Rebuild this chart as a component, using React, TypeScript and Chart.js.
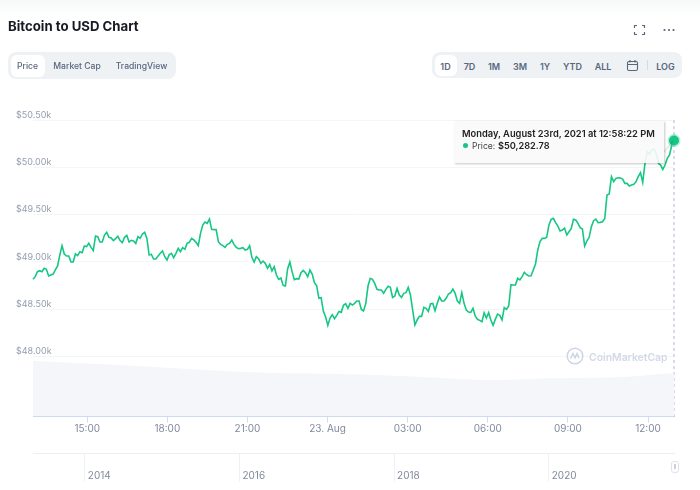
import React, { useEffect, useRef } from 'react';
import { Chart, registerables } from 'chart.js';

Chart.register(...registerables);

// hours counted from 22 Aug 00:00
const START_HOUR = 12.97;
const END_HOUR = 36.973;

const prices = [
  48816, 48844, 48897, 48907, 48897, 48932, 48922, 48851, 48862, 48872, 48915, 48957, 49073, 49172, 49084, 49062, 49062,
  48999, 48999, 49084, 49066, 49108, 49098, 49168, 49161, 49196, 49154, 49119, 49274, 49267, 49210, 49210, 49284,
  49313, 49260, 49253, 49225, 49246, 49270, 49225, 49203, 49260, 49281, 49210, 49228, 49221, 49196, 49267, 49249,
  49295, 49313, 49249, 49073, 49080, 49031, 49031, 49062, 49091, 49115, 49055, 49020, 49077, 49091, 49045, 49091,
  49143, 49108, 49150, 49133, 49196, 49207, 49249, 49232, 49207, 49172, 49302, 49390, 49422, 49408, 49453, 49344,
  49341, 49341, 49214, 49186, 49172, 49154, 49186, 49196,
  49231, 49185, 49154, 49140, 49143, 49150, 49126, 49133, 49171, 49048, 48999, 49055, 49034, 48985, 49009, 48985,
  48932, 48974, 48904, 48949, 48861, 48816, 48830, 48752, 48745, 48925, 48999, 48897, 48812, 48823, 48819, 48886,
  48911, 48886, 48844, 48914, 48872, 48780, 48749, 48615, 48622, 48481, 48421, 48329, 48407, 48442, 48400, 48435,
  48477, 48467, 48541, 48558, 48509, 48562, 48544, 48562, 48587, 48587, 48498, 48481, 48562, 48745, 48826, 48816,
  48773, 48710, 48703, 48703, 48668, 48710, 48742, 48731, 48625, 48639, 48720, 48650, 48625, 48668, 48675, 48731,
  48650, 48491, 48333, 48386, 48424, 48424, 48520, 48509, 48477, 48558, 48562, 48484, 48562, 48629, 48587, 48587,
  48615, 48661, 48675, 48713, 48668, 48587, 48562,
  48675, 48562, 48492, 48470, 48467, 48509, 48428, 48393, 48382, 48368, 48463, 48407, 48463, 48386, 48330, 48393,
  48449, 48435, 48386, 48516, 48499, 48534, 48759, 48756, 48756, 48826, 48809, 48844, 48890, 48865, 48851, 48854,
  48914, 48978, 49126, 49214, 49249, 49249, 49260, 49390, 49450, 49460, 49415, 49379, 49327, 49337, 49358, 49284,
  49319, 49355, 49450, 49443, 49408, 49362, 49348, 49168, 49221, 49260, 49372, 49436, 49453, 49415, 49418, 49425,
  49460, 49707, 49718, 49901, 49848, 49883, 49890, 49887, 49876, 49830, 49830, 49802, 49813, 49820, 49848, 49901,
  49943, 49841, 50042, 50165, 50140, 50183, 50190, 50147, 50042, 50024, 49978, 50024, 50095, 50130, 50235,
  50282.78,
];

// volume in $bn, sampled at these hours
const volumeHours = [12.97, 15.48, 17.99, 21.1, 24.84, 27.35, 30.08, 32.33, 34.84, 36.973];
const volumes = [30, 28.3, 26.3, 23.9, 22.8, 21.5, 19.7, 20.6, 21.2, 23.5];

const hourTicks = [15, 18, 21, 24, 27, 30, 33, 36];
const hourLabels = ['15:00', '18:00', '21:00', '23. Aug', '03:00', '06:00', '09:00', '12:00'];
const priceTicks = [48000, 48500, 49000, 49500, 50000, 50500];
const priceLabels = ['$48.00k', '$48.50k', '$49.00k', '$49.50k', '$50.00k', '$50.50k'];
const navYears = [2014, 2016, 2018, 2020];

const typeTabs = ['Price', 'Market Cap', 'TradingView'];
const rangeTabs = ['1D', '7D', '1M', '3M', '1Y', 'YTD', 'ALL'];

const GREEN = '#16c784';
const SANS = 'Inter, sans-serif';

const crosshair = {
  id: 'crosshair',
  beforeDatasetsDraw(chart: any) {
    const { ctx, chartArea, scales } = chart;
    const x = scales.x.getPixelForValue(END_HOUR);
    ctx.save();
    ctx.strokeStyle = '#aebad6';
    ctx.setLineDash([3, 3]);
    ctx.lineWidth = 1;
    ctx.beginPath();
    ctx.moveTo(x, chartArea.top);
    ctx.lineTo(x, chartArea.bottom);
    ctx.stroke();
    ctx.restore();
  },
};

const abs = (left: number, top: number, width: number, height: number): React.CSSProperties => ({
  position: 'absolute',
  left,
  top,
  width,
  height,
});

const tabText: React.CSSProperties = {
  position: 'absolute',
  transform: 'translateX(-50%)',
  top: 59.5,
  fontSize: 8.6,
  lineHeight: '13px',
  fontWeight: 500,
  color: '#58667e',
  whiteSpace: 'nowrap',
};

const App = () => {
  const canvasRef = useRef<HTMLCanvasElement>(null);

  useEffect(() => {
    if (!canvasRef.current) return;
    const times = prices.map((_, i) => START_HOUR + (i * (END_HOUR - START_HOUR)) / (prices.length - 1));
    const chart = new Chart(canvasRef.current, {
      type: 'line',
      data: {
        datasets: [
          {
            label: 'Price',
            data: prices.map((p, i) => ({ x: times[i], y: p })),
            borderColor: GREEN,
            borderWidth: 1.6,
            tension: 0,
            clip: false,
            yAxisID: 'y',
            pointRadius: (c: any) => (c.dataIndex === prices.length - 1 ? 5 : 0),
            pointBackgroundColor: GREEN,
            pointBorderColor: 'rgba(22, 199, 132, 0.3)',
            pointBorderWidth: 3,
          },
          {
            label: 'Volume',
            data: volumes.map((v, i) => ({ x: volumeHours[i], y: v })),
            borderWidth: 0,
            backgroundColor: '#f4f6fa',
            fill: 'origin',
            pointRadius: 0,
            tension: 0.3,
            yAxisID: 'yVol',
          },
        ],
      } as any,
      options: {
        animation: false,
        responsive: false,
        devicePixelRatio: 1,
        layout: { padding: { left: 16, right: 26, top: 120, bottom: 0 } },
        plugins: { legend: { display: false }, tooltip: { enabled: false } },
        events: [],
        scales: {
          x: {
            type: 'linear',
            position: 'bottom',
            weight: 0,
            min: START_HOUR,
            max: END_HOUR,
            afterBuildTicks: (s: any) => {
              s.ticks = hourTicks.map((value) => ({ value }));
            },
            afterFit: (s: any) => {
              s.height = 37;
            },
            grid: { drawOnChartArea: false, tickLength: 6, color: '#d3def2' },
            border: { color: '#c8d6ee' },
            ticks: {
              autoSkip: false,
              maxRotation: 0,
              padding: 0,
              color: '#808a9d',
              font: { family: SANS, size: 10 },
              callback: (v: any) => hourLabels[hourTicks.indexOf(v)],
            },
          },
          xNav: {
            type: 'linear',
            axis: 'x',
            position: 'bottom',
            weight: 1,
            min: 2013.33,
            max: 2021.62,
            afterBuildTicks: (s: any) => {
              s.ticks = navYears.map((value) => ({ value }));
            },
            afterFit: (s: any) => {
              s.height = 36.5;
            },
            grid: { drawOnChartArea: false, tickLength: 28, color: '#f0f1f4' },
            border: { color: '#eceef2' },
            ticks: {
              autoSkip: false,
              maxRotation: 0,
              align: 'start',
              labelOffset: 3,
              padding: -12,
              color: '#808a9d',
              font: { family: SANS, size: 10 },
              callback: (v: any) => String(v),
            },
          },
          y: {
            type: 'linear',
            position: 'left',
            min: 47366,
            max: 50500,
            afterBuildTicks: (s: any) => {
              s.ticks = priceTicks.map((value) => ({ value }));
            },
            afterFit: (s: any) => {
              s.width = 17;
            },
            grid: { color: '#f4f5f7', drawTicks: false },
            border: { display: false },
            ticks: {
              autoSkip: false,
              mirror: true,
              padding: -17,
              labelOffset: -5,
              color: '#959dae',
              font: { family: SANS, size: 9 },
              callback: (v: any) => priceLabels[priceTicks.indexOf(v)],
            },
          },
          yVol: {
            type: 'linear',
            display: false,
            min: 0,
            max: 160,
          },
        },
      } as any,
      plugins: [crosshair],
    });
    return () => {
      chart.destroy();
    };
  }, []);

  return (
    <div style={{ ...abs(0, 0, 700, 490), overflow: 'hidden', background: '#fff', fontFamily: SANS }}>
      <div style={{ ...abs(0, 0, 700, 17), background: 'linear-gradient(#f7f8f9, #ffffff)' }} />
      <canvas ref={canvasRef} width={700} height={490} style={{ ...abs(0, 0, 700, 490), display: 'block' }} />

      <div style={{ position: 'absolute', left: 8, top: 17, fontSize: 13.2, lineHeight: '18px', fontWeight: 700, color: '#171924', whiteSpace: 'nowrap' }}>
        Bitcoin to USD Chart
      </div>

      <svg style={abs(632, 23, 15, 14)} viewBox="0 0 15 14" fill="none" stroke="#58667e" strokeWidth="1.2">
        <path d="M2.5 5V2.500h2.500M10 2.500h2.500V5M12.500 9v2.500H10M5 11.500H2.500V9" />
      </svg>
      <svg style={abs(662, 28, 14, 4)} viewBox="0 0 14 4" fill="#58667e">
        <circle cx="2.500" cy="2" r="1.100" />
        <circle cx="7" cy="2" r="1.100" />
        <circle cx="11.500" cy="2" r="1.100" />
      </svg>

      {/* left tab group */}
      <div style={{ ...abs(8, 52, 168, 27), background: '#eff2f5', borderRadius: 8 }} />
      <div style={{ ...abs(11, 55, 34, 22), background: '#fff', borderRadius: 6 }} />
      {typeTabs.map((t, i) => (
        <div key={t} style={{ ...tabText, left: [27.5, 77, 141.5][i] }}>
          {t}
        </div>
      ))}

      {/* right tab group */}
      <div style={{ ...abs(432, 52, 250, 26), background: '#eff2f5', borderRadius: 8 }} />
      <div style={{ ...abs(434.500, 54.500, 22.500, 21.500), background: '#fff', borderRadius: 6 }} />
      {rangeTabs.map((t, i) => (
        <div key={t} style={{ ...tabText, fontSize: 9, fontWeight: 600, left: [445.500, 469.500, 494, 520, 545, 572.500, 603][i] }}>
          {t}
        </div>
      ))}
      <svg style={abs(626, 59, 13, 13)} viewBox="0 0 13 13" fill="none" stroke="#58667e" strokeWidth="1.1">
        <rect x="1.500" y="2.500" width="10" height="9" rx="1.500" />
        <path d="M1.500 5.500h10M4 1v2.500M9 1v2.500" />
      </svg>
      <div style={{ ...abs(647, 60, 1, 10), background: '#d5dbe4' }} />
      <div style={{ ...tabText, fontSize: 9, fontWeight: 600, left: 665.500 }}>LOG</div>

      {/* tooltip */}
      <div
        style={{
          ...abs(454, 120.500, 210, 42),
          background: 'rgba(250, 250, 250, 0.9)',
          boxShadow: '1px 1px 2px rgba(0, 0, 0, 0.22)',
        }}
      />
      <svg style={abs(660, 136, 14, 18)} viewBox="0 0 14 18" fill="none" stroke="rgba(0, 0, 0, 0.1)" strokeWidth="1.5">
        <path d="M4 16L13 5" />
      </svg>
      <div style={{ position: 'absolute', left: 462, top: 128, fontSize: 9.3, lineHeight: '12px', fontWeight: 600, color: '#222', whiteSpace: 'nowrap' }}>
        Monday, August 23rd, 2021 at 12:58:22 PM
      </div>
      <div style={{ ...abs(463, 143, 5, 5), borderRadius: '50%', background: GREEN }} />
      <div style={{ position: 'absolute', left: 472, top: 139.500, fontSize: 8.6, lineHeight: '12px', color: '#444', whiteSpace: 'nowrap' }}>
        Price:
      </div>
      <div style={{ position: 'absolute', left: 498, top: 139.500, fontSize: 9.2, lineHeight: '12px', fontWeight: 600, color: '#222', whiteSpace: 'nowrap' }}>
        $50,282.78
      </div>

      {/* watermark */}
      <svg style={abs(566, 347, 18, 18)} viewBox="0 0 18 18" fill="none" stroke="#cdd4e6" strokeWidth="1.500">
        <circle cx="9" cy="9" r="7.800" />
        <path d="M4.500 11.500l2.500-5 2 4.500 2-4.500 2 4.500" />
      </svg>
      <div style={{ position: 'absolute', left: 589, top: 349.500, fontSize: 10.4, lineHeight: '15px', fontWeight: 600, color: '#d3d9e8', whiteSpace: 'nowrap' }}>
        CoinMarketCap
      </div>

      {/* navigator handle */}
      <div style={{ ...abs(671, 461, 8, 12), background: '#fff', border: '1px solid #dfe2e8', borderRadius: 3, boxSizing: 'border-box' }} />
      <div style={{ ...abs(674, 464, 2, 5), background: '#ccd1da' }} />
    </div>
  );
};

export default App;
